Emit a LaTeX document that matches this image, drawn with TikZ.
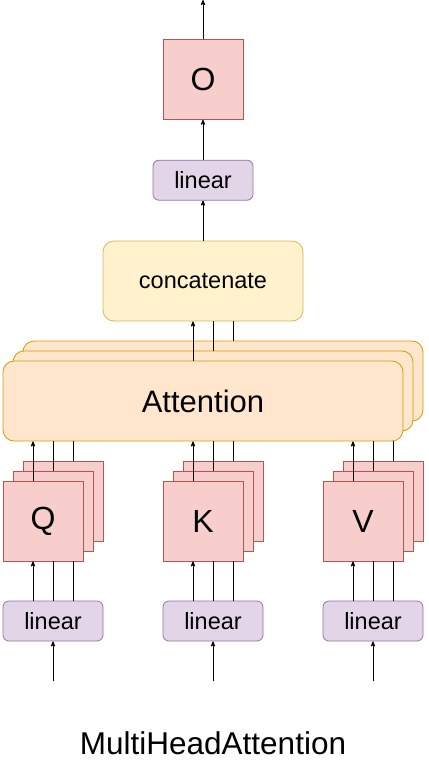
\documentclass[tikz,border=0pt]{standalone}
\usepackage{fontspec}
\setmainfont{Liberation Sans}
\usetikzlibrary{arrows,positioning}
\definecolor{headfill}{HTML}{F8CECC}
\definecolor{headline}{HTML}{B85450}
\definecolor{linfill}{HTML}{E1D5E7}
\definecolor{linline}{HTML}{9673A6}
\definecolor{catfill}{HTML}{FFF2CC}
\definecolor{catline}{HTML}{D6B656}
\definecolor{attfill}{HTML}{FFE6CC}
\definecolor{attline}{HTML}{D79B00}

\begin{document}
\begin{tikzpicture}[x=1pt,y=-1pt,>=stealth',line width=0.8pt,
		head node/.style={draw=headline,fill=headfill,minimum size=80pt,inner sep=0pt,
			font=\fontsize{32}{36}\selectfont},
		linear node/.style={draw=linline,fill=linfill,rounded corners=6pt,minimum width=100pt,
			minimum height=40pt,inner sep=0pt,font=\fontsize{23.5}{28}\selectfont},
		att node/.style={draw=attline,fill=attfill,rounded corners=11pt,minimum width=400pt,
			minimum height=80pt,inner sep=0pt,font=\fontsize{31}{36}\selectfont},
		cat node/.style={draw=catline,fill=catfill,rounded corners=11pt,minimum width=200pt,
			minimum height=80pt,inner sep=0pt,font=\fontsize{23.5}{28}\selectfont}]
	\useasboundingbox (0,0) rectangle (428,767);
	%
	% Projections for Q, K and V, three heads each.
	\node[head node] (Q3) at (63,501) {};
	\node[head node] (Q2) at (53,511) {};
	\node[head node] (Q1) at (43,521) {Q};
	\node[head node] (K3) at (223,501) {};
	\node[head node] (K2) at (213,511) {};
	\node[head node] (K1) at (203,521) {K};
	\node[head node] (V3) at (383,501) {};
	\node[head node] (V2) at (373,511) {};
	\node[head node] (V1) at (363,521) {V};
	\node[linear node] (linQ) at (53,621) {linear};
	\node[linear node] (linK) at (213,621) {linear};
	\node[linear node] (linV) at (373,621) {linear};
	\coordinate[below =40pt of linQ] (inQ);
	\coordinate[below =40pt of linK] (inK);
	\coordinate[below =40pt of linV] (inV);
	%
	% Attention heads, then concatenate, linear and output.
	\node[att node] (att3) at (223,381) {};
	\node[att node] (att2) at (213,391) {};
	\node[att node] (att1) at (203,401) {Attention};
	\node[cat node] (cat) at (203,281) {concatenate};
	\node[linear node] (linO) [above =40pt of cat] {linear};
	\node[head node] (O) [above =40pt of linO] {O};
	\coordinate[above =39pt of O] (out);
	\node[font=\fontsize{31.5}{36}\selectfont] (title) at (213,743) {MultiHeadAttention};
	%
	% Inputs into the linear layers.
	\draw[->] (inQ) -- (linQ);
	\draw[->] (inK) -- (linK);
	\draw[->] (inV) -- (linV);
	%
	% Linear layers up to the heads.
	\draw[->] ([xshift=-20pt]linQ.north) -- ([xshift=-20pt]linQ.north |- Q1.south);
	\draw (linQ.north) -- (linQ.north |- Q1.south);
	\draw ([xshift=20pt]linQ.north) -- ([xshift=20pt]linQ.north |- Q1.south);
	\draw[->] ([xshift=-20pt]linK.north) -- ([xshift=-20pt]linK.north |- K1.south);
	\draw (linK.north) -- (linK.north |- K1.south);
	\draw ([xshift=20pt]linK.north) -- ([xshift=20pt]linK.north |- K1.south);
	\draw[->] ([xshift=-20pt]linV.north) -- ([xshift=-20pt]linV.north |- V1.south);
	\draw (linV.north) -- (linV.north |- V1.south);
	\draw ([xshift=20pt]linV.north) -- ([xshift=20pt]linV.north |- V1.south);
	%
	% Heads up to attention.
	\draw[->] ([xshift=-10pt]Q1.north) -- ([xshift=-10pt]Q1.north |- att1.south);
	\draw (Q2.north) -- (Q2.north |- att1.south);
	\draw ([xshift=10pt]Q3.north) -- ([xshift=10pt]Q3.north |- att1.south);
	\draw[->] ([xshift=-10pt]K1.north) -- ([xshift=-10pt]K1.north |- att1.south);
	\draw (K2.north) -- (K2.north |- att1.south);
	\draw ([xshift=10pt]K3.north) -- ([xshift=10pt]K3.north |- att1.south);
	\draw[->] ([xshift=-10pt]V1.north) -- ([xshift=-10pt]V1.north |- att1.south);
	\draw (V2.north) -- (V2.north |- att1.south);
	\draw ([xshift=10pt]V3.north) -- ([xshift=10pt]V3.north |- att1.south);
	%
	% Attention up to the output.
	\draw[->] ([xshift=-10pt]att1.north) -- ([xshift=-10pt]att1.north |- cat.south);
	\draw (att2.north) -- (att2.north |- cat.south);
	\draw ([xshift=10pt]att3.north) -- ([xshift=10pt]att3.north |- cat.south);
	\draw[->] (cat) -- (linO);
	\draw[->] (linO) -- (O);
	\draw[->] (O) -- (out);
\end{tikzpicture}
\end{document}
